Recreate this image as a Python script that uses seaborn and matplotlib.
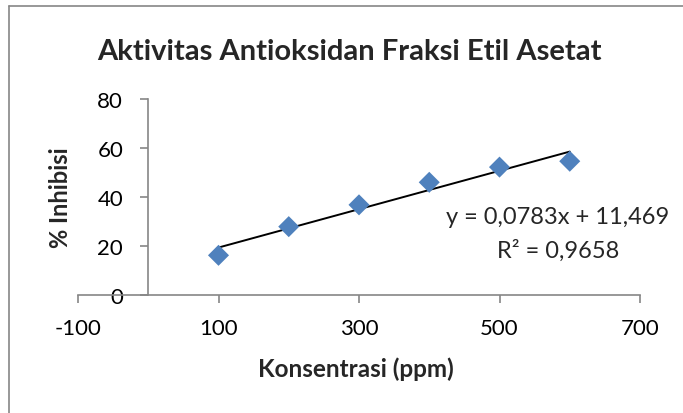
import matplotlib
matplotlib.use("Agg")
import matplotlib.pyplot as plt
import seaborn as sns
import pandas as pd
from matplotlib.lines import Line2D

# data
konsentrasi = [100, 200, 300, 400, 500, 600]
inhibisi = [16.2, 27.9, 36.8, 46.0, 52.2, 54.6]
x_ticks = [-100, 100, 300, 500, 700]
y_ticks = [0, 20, 40, 60, 80]
title = "Aktivitas Antioksidan Fraksi Etil Asetat"
x_label = "Konsentrasi (ppm)"
y_label = "% Inhibisi"
eq_text = "y = 0,0783x + 11,469"
r2_text = "R² = 0,9658"

df = pd.DataFrame({"x": konsentrasi, "y": inhibisi})

sns.set_style("white")
plt.rcParams["font.family"] = ["Lato", "DejaVu Sans"]
plt.rcParams["axes.unicode_minus"] = False

W, H = 683, 414
fig = plt.figure(figsize=(W / 100, H / 100), dpi=100)
ax = fig.add_axes([78 / W, 1 - 296 / H, (640 - 78) / W, (296 - 100) / H])

sns.regplot(data=df, x="x", y="y", ax=ax, ci=None, truncate=True, scatter=False,
            line_kws=dict(color="black", lw=1.4))
sns.scatterplot(data=df, x="x", y="y", ax=ax, marker="D", s=115,
                color="#4F81BD", edgecolor="none", zorder=3)

ax.set_xlim(-100, 700)
ax.set_ylim(0, 80)
ax.set_xticks(x_ticks)
ax.set_yticks(y_ticks)
ax.set_xlabel("")
ax.set_ylabel("")

gray = "#868686"
for s in ["top", "right"]:
    ax.spines[s].set_visible(False)
ax.spines["left"].set_position(("data", 0))
for s in ["left", "bottom"]:
    ax.spines[s].set_color(gray)
    ax.spines[s].set_linewidth(1.2)

ax.tick_params(axis="y", direction="out", length=6, width=1.2, color=gray,
               pad=12, labelsize=16, labelcolor="black", left=True)
ax.tick_params(axis="x", direction="out", length=5.5, width=1.2, color=gray,
               pad=11, labelsize=16, labelcolor="black", bottom=True)
ax.set_facecolor("none")
ax.grid(False)

fig.text(349 / W, 1 - 52 / H, title, ha="center", va="center",
         fontsize=21, fontweight="bold")
fig.text(356 / W, 1 - 369 / H, x_label, ha="center", va="center",
         fontsize=17.5, fontweight="bold")
fig.text(60 / W, 1 - 198 / H, y_label, ha="center", va="center",
         fontsize=17, fontweight="bold", rotation=90)
fig.text(558 / W, 1 - 218 / H, eq_text, ha="center", va="center", fontsize=17)
fig.text(558 / W, 1 - 251 / H, r2_text, ha="center", va="center", fontsize=17)

# chart border (top and left edges visible)
fig.add_artist(Line2D([9 / W, 1.01], [1 - 7 / H, 1 - 7 / H], color=gray, lw=1.2,
                      transform=fig.transFigure))
fig.add_artist(Line2D([9 / W, 9 / W], [-0.01, 1 - 7 / H], color=gray, lw=1.2,
                      transform=fig.transFigure))

fig.savefig("out.png", dpi=100)
